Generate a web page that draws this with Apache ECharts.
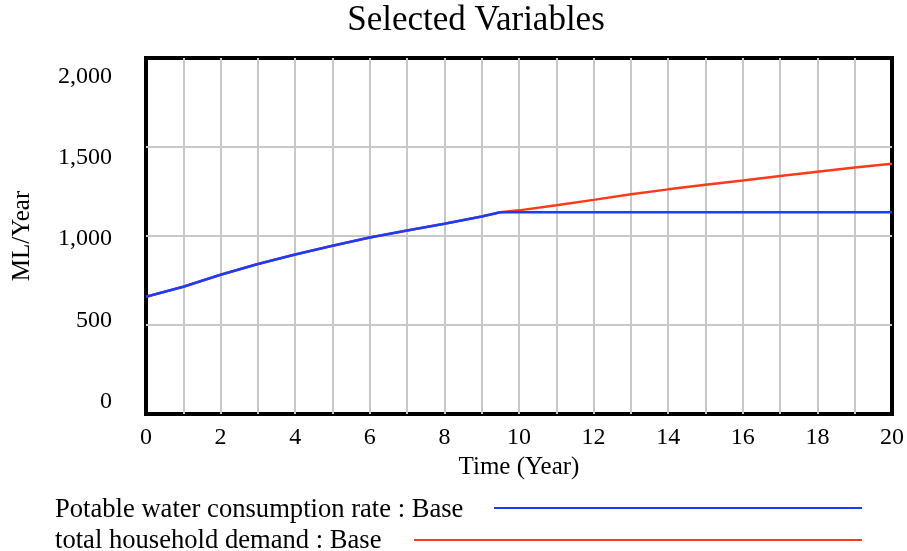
<!DOCTYPE html>
<html>
<head>
<meta charset="utf-8">
<script src="https://cdn.jsdelivr.net/npm/echarts@6/dist/echarts.min.js"></script>
<style>
html,body{margin:0;padding:0;background:#fff;}
#chart{width:907px;height:551px;}
</style>
</head>
<body>
<div id="chart"></div>
<script>
// Time (Year)
const years = [0,1,2,3,4,5,6,7,8,9,9.5,10,11,12,13,14,15,16,17,18,19,20];
// Potable water consumption rate : Base (ML/Year)
const potable = [659,715,782,843,896,945,992,1031,1069,1110,1133,1133,1133,1133,1133,1133,1133,1133,1133,1133,1133,1133];
// total household demand : Base (ML/Year)
const household = [659,715,782,843,896,945,992,1031,1069,1110,1133,1144,1173,1203,1234,1262,1288,1312,1337,1361,1385,1406];
const yTicks = [0,500,1000,1500,2000];
const xTicks = [0,2,4,6,8,10,12,14,16,18,20];
const seriesNames = ['Potable water consumption rate : Base','total household demand : Base'];

const FONT = '"Liberation Serif","Times New Roman",serif';
const fmt = v => String(v).replace(/\B(?=(\d{3})+(?!\d))/g, ',');
const pairs = arr => years.map((t,i)=>[t,arr[i]]);

const chart = echarts.init(document.getElementById('chart'), null, {renderer:'canvas'});
chart.setOption({
  animation:false,
  backgroundColor:'#fff',
  grid:{left:146,right:11,top:58,bottom:137,show:true,borderColor:'#000',borderWidth:4,backgroundColor:'transparent'},
  xAxis:{
    type:'value',min:0,max:20,interval:1,
    name:'Time (Year)',nameLocation:'middle',nameGap:40,
    nameTextStyle:{fontFamily:FONT,fontSize:25,color:'#000'},
    axisLine:{show:false},axisTick:{show:false},
    axisLabel:{fontFamily:FONT,fontSize:24,color:'#000',margin:12,
      formatter:v=> xTicks.indexOf(v)>=0 ? String(v) : ''},
    splitLine:{show:true,showMinLine:false,showMaxLine:false,lineStyle:{color:'#c8c8c8',width:2}}
  },
  yAxis:[{
    type:'value',min:0,max:2000,interval:500,
    name:'ML/Year',nameLocation:'middle',nameGap:111,
    nameTextStyle:{fontFamily:FONT,fontSize:25,color:'#000'},
    axisLine:{show:false},axisTick:{show:false},axisLabel:{show:false},
    splitLine:{show:true,showMinLine:false,showMaxLine:false,lineStyle:{color:'#c8c8c8',width:2}}
  },{
    type:'value',min:-75.7,max:2113,position:'left',
    axisLine:{show:false},axisTick:{show:false},splitLine:{show:false},
    axisLabel:{customValues:yTicks,formatter:v=>fmt(v),fontFamily:FONT,fontSize:24,color:'#000',margin:34}
  }],
  graphic:[
    {type:'text',x:476,y:21,style:{text:'Selected Variables',font:'35px '+FONT,fill:'#000',align:'center',verticalAlign:'middle'}},
    {type:'text',x:55,y:510,style:{text:seriesNames[0],font:'26.6px '+FONT,fill:'#000',align:'left',verticalAlign:'middle'}},
    {type:'line',shape:{x1:494,y1:508,x2:862,y2:508},style:{stroke:'#1a3cff',lineWidth:2}},
    {type:'text',x:55,y:541,style:{text:seriesNames[1],font:'26.6px '+FONT,fill:'#000',align:'left',verticalAlign:'middle'}},
    {type:'line',shape:{x1:414,y1:540,x2:862,y2:540},style:{stroke:'#ff3a1a',lineWidth:2}}
  ],
  series:[
    {name:seriesNames[1],type:'line',data:pairs(household),showSymbol:false,lineStyle:{color:'#ff3a1a',width:2.5},itemStyle:{color:'#ff3a1a'},z:2},
    {name:seriesNames[0],type:'line',data:pairs(potable),showSymbol:false,lineStyle:{color:'#1a3cff',width:2.5},itemStyle:{color:'#1a3cff'},z:3}
  ]
});
</script>
</body>
</html>
